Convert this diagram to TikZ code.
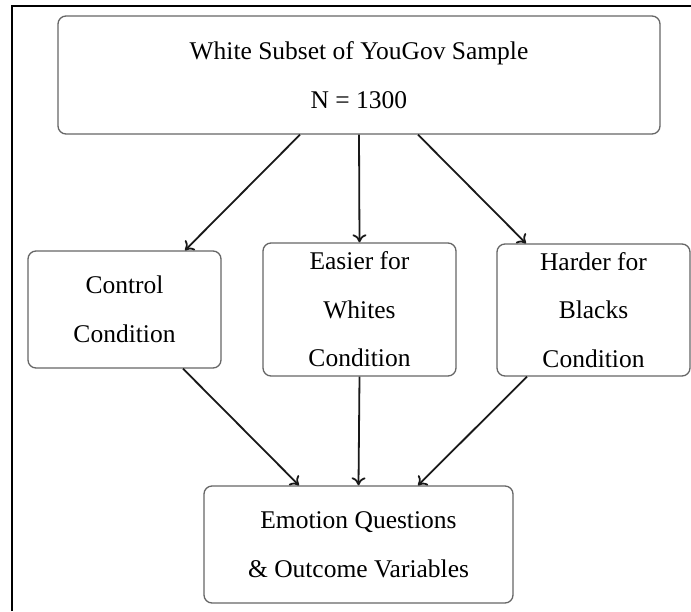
\documentclass[tikz,border=0pt]{standalone}
\usepackage{fontspec}
\setmainfont{Liberation Serif}
\usetikzlibrary{arrows.meta}
\begin{document}
\begin{tikzpicture}[x=1pt,y=-1pt,
  box/.style={draw=black!60, line width=1.3pt, rounded corners=8pt, align=center,
    font=\fontsize{25.5}{48.5}\selectfont, inner sep=0pt},
  conn/.style={draw=black!90, line width=1.8pt,
    -{Computer Modern Rightarrow[length=8pt,width=14pt,line width=1.8pt]}}]
\useasboundingbox (0,0) rectangle (691,611);
\draw[line width=1.8pt] (12,611) -- (12,6) -- (691,6);
\node[box, minimum width=602pt, minimum height=118pt] (top) at (359,75)
  {White Subset of YouGov Sample\\N = 1300};
\node[box, minimum width=193pt, minimum height=117pt] (ctl) at (124.5,309.5)
  {Control\\Condition};
\node[box, minimum width=193pt, minimum height=133pt] (easy) at (359.5,309.5)
  {Easier for\\Whites\\Condition};
\node[box, minimum width=193pt, minimum height=132pt] (hard) at (593.5,310)
  {Harder for\\Blacks\\Condition};
\node[box, minimum width=309pt, minimum height=117pt] (bot) at (358.5,544.5)
  {Emotion Questions\\\& Outcome Variables};
\draw[conn] ([xshift=-59pt]top.south) -- ([xshift=60.5pt]ctl.north);
\draw[conn] (top.south) -- (easy.north);
\draw[conn] ([xshift=59pt]top.south) -- ([xshift=-67.5pt]hard.north);
\draw[conn] ([xshift=58.5pt]ctl.south) -- ([xshift=-59.5pt]bot.north);
\draw[conn] (easy.south) -- (bot.north);
\draw[conn] ([xshift=-66.5pt]hard.south) -- ([xshift=59.5pt]bot.north);
\end{tikzpicture}
\end{document}
